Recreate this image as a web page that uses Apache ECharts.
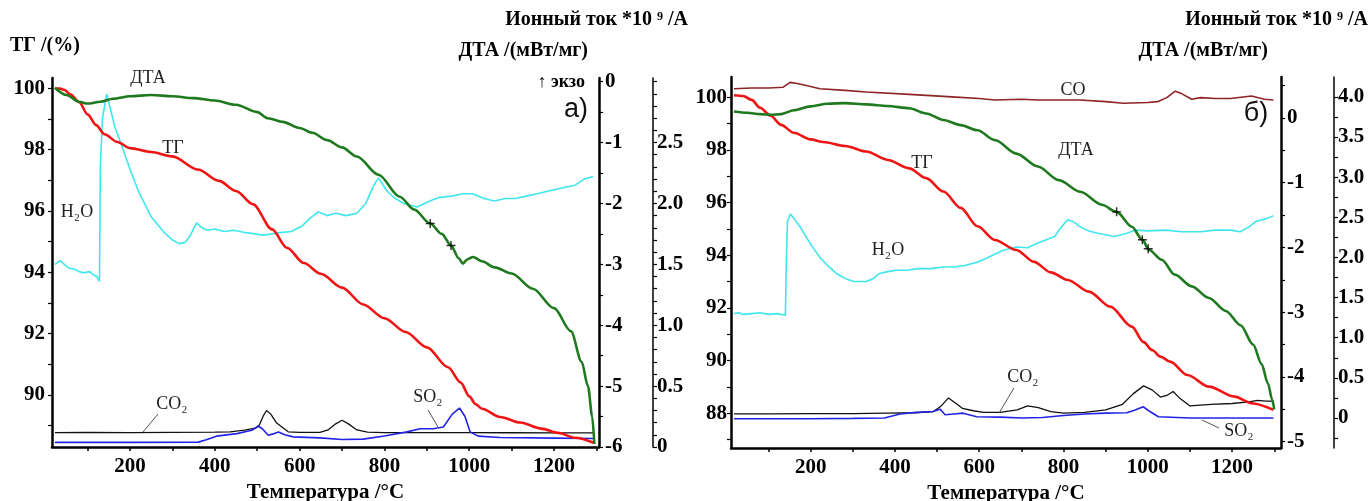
<!DOCTYPE html>
<html><head><meta charset="utf-8">
<script src="https://cdn.jsdelivr.net/npm/echarts@6/dist/echarts.min.js"></script>
<style>html,body{margin:0;padding:0;background:#fff}#c{width:1370px;height:501px}</style>
</head><body><div id="c"></div>
<script>
// ---------- tick / label values ----------
const X_TICKS = [100,200,300,400,500,600,700,800,900,1000,1100,1200,1300];
const X_LABELS = [200,400,600,800,1000,1200];
const TG_A_TICKS = [89,90,91,92,93,94,95,96,97,98,99,100];
const TG_A_LABELS = [90,92,94,96,98,100];
const TG_B_TICKS = [87,88,89,90,91,92,93,94,95,96,97,98,99,100];
const TG_B_LABELS = [88,90,92,94,96,98,100];
const DTA_A_TICKS = [-6,-5.5,-5,-4.5,-4,-3.5,-3,-2.5,-2,-1.5,-1,-0.5,0];
const DTA_A_LABELS = [-6,-5,-4,-3,-2,-1,0];
const DTA_B_TICKS = [-5,-4.5,-4,-3.5,-3,-2.5,-2,-1.5,-1,-0.5,0,0.5];
const DTA_B_LABELS = [-5,-4,-3,-2,-1,0];
const ION_A_TICKS = [0,0.1,0.2,0.3,0.4,0.5,0.6,0.7,0.8,0.9,1.0,1.1,1.2,1.3,1.4,1.5,1.6,1.7,1.8,1.9,2.0,2.1,2.2,2.3,2.4,2.5,2.6,2.7,2.8,2.9,3.0];
const ION_A_LABELS = [0,0.5,1.0,1.5,2.0,2.5];
const ION_B_TICKS = [-0.25,0,0.25,0.5,0.75,1.0,1.25,1.5,1.75,2.0,2.25,2.5,2.75,3.0,3.25,3.5,3.75,4.0,4.25];
const ION_B_LABELS = [0,0.5,1.0,1.5,2.0,2.5,3.0,3.5,4.0];

// ---------- panel a) data [T °C, value] ----------
const TG_A = [[23,100],[35,99.99],[45,99.95],[60,99.8],[80,99.55],[100,99.15],[120,98.8],[140,98.5],[170,98.25],[200,98.05],[250,97.92],[300,97.78],[360,97.35],[410,96.98],[450,96.65],[490,96.22],[535,95.4],[570,94.8],[610,94.3],[650,93.95],[700,93.5],[750,92.95],[800,92.5],[850,92.05],[900,91.55],[950,90.9],[980,90.4],[1000,89.95],[1015,89.7],[1030,89.55],[1073,89.28],[1120,89.1],[1170,88.9],[1210,88.76],[1250,88.6],[1295,88.43]];
const DTA_A = [[23,-0.1],[50,-0.22],[80,-0.33],[100,-0.36],[130,-0.33],[160,-0.28],[200,-0.24],[250,-0.22],[300,-0.24],[350,-0.27],[400,-0.31],[450,-0.38],[500,-0.5],[525,-0.6],[560,-0.66],[600,-0.76],[630,-0.84],[665,-0.96],[700,-1.08],[735,-1.23],[786,-1.53],[836,-1.89],[870,-2.1],[908,-2.33],[935,-2.5],[957,-2.69],[975,-2.9],[985,-2.99],[995,-2.92],[1009,-2.88],[1030,-2.95],[1060,-3.05],[1100,-3.15],[1150,-3.4],[1200,-3.72],[1240,-4.1],[1265,-4.6],[1280,-5.0],[1290,-5.5],[1295,-5.95]];
const DTA_A_MARKS = [[908,-2.33],[957,-2.69]];
const H2O_A = [[23,1.5],[35,1.53],[45,1.5],[55,1.47],[70,1.46],[80,1.44],[90,1.43],[105,1.44],[115,1.41],[122,1.4],[128,1.36],[130,2.3],[135,2.7],[145,2.9],[152,2.8],[165,2.62],[180,2.48],[200,2.28],[220,2.1],[250,1.89],[281,1.76],[300,1.7],[316,1.67],[330,1.68],[341,1.73],[357,1.84],[370,1.8],[382,1.78],[400,1.79],[422,1.77],[445,1.78],[473,1.76],[495,1.75],[513,1.74],[535,1.75],[554,1.76],[580,1.77],[604,1.81],[625,1.88],[644,1.93],[665,1.9],[685,1.92],[710,1.9],[735,1.92],[756,2.0],[775,2.15],[786,2.21],[806,2.1],[826,2.04],[846,2.0],[877,1.97],[907,2.02],[930,2.05],[958,2.06],[985,2.08],[1008,2.08],[1035,2.04],[1059,2.02],[1085,2.04],[1109,2.04],[1135,2.06],[1160,2.08],[1185,2.1],[1210,2.12],[1250,2.15],[1271,2.2],[1292,2.22]];
const CO2_A = [[23,0.118],[100,0.12],[200,0.118],[300,0.12],[400,0.122],[436,0.125],[470,0.138],[495,0.155],[505,0.18],[515,0.26],[522,0.3],[532,0.27],[545,0.2],[556,0.17],[573,0.125],[600,0.12],[648,0.12],[667,0.14],[685,0.19],[700,0.22],[715,0.19],[735,0.14],[760,0.122],[800,0.118],[900,0.118],[1000,0.118],[1100,0.117],[1200,0.116],[1292,0.116]];
const SO2_A = [[23,0.038],[200,0.038],[361,0.04],[380,0.06],[404,0.089],[452,0.11],[487,0.138],[503,0.17],[512,0.15],[526,0.097],[540,0.11],[550,0.124],[565,0.1],[585,0.083],[648,0.075],[700,0.062],[750,0.065],[800,0.09],[853,0.124],[884,0.15],[915,0.15],[939,0.164],[960,0.27],[977,0.32],[990,0.25],[1002,0.124],[1021,0.089],[1073,0.078],[1200,0.073],[1293,0.07]];

// ---------- panel б) data [T °C, value] ----------
const TG_B = [[18,100.08],[40,100.05],[60,99.9],[80,99.6],[105,99.3],[130,98.95],[160,98.65],[200,98.4],[230,98.3],[282,98.15],[332,97.94],[383,97.62],[434,97.3],[474,96.93],[515,96.42],[556,95.8],[596,95.1],[637,94.58],[688,94.2],[730,93.75],[770,93.35],[810,93.06],[860,92.62],[911,92.05],[962,91.29],[990,90.7],[1010,90.4],[1030,90.15],[1053,89.96],[1094,89.45],[1145,89.01],[1206,88.63],[1246,88.38],[1298,88.13]];
const DTA_B = [[18,0.1],[50,0.08],[80,0.06],[105,0.05],[130,0.06],[160,0.12],[200,0.18],[240,0.22],[282,0.23],[332,0.21],[383,0.185],[434,0.15],[474,0.07],[515,-0.03],[556,-0.11],[596,-0.19],[637,-0.34],[688,-0.55],[739,-0.75],[789,-0.96],[840,-1.14],[891,-1.34],[926,-1.45],[962,-1.68],[987,-1.88],[1003,-2.04],[1033,-2.19],[1064,-2.42],[1104,-2.6],[1145,-2.78],[1185,-2.98],[1220,-3.2],[1250,-3.5],[1270,-3.8],[1285,-4.1],[1295,-4.35],[1300,-4.5]];
const DTA_B_MARKS = [[926,-1.45],[987,-1.88],[1001,-2.02]];
const H2O_B = [[18,1.3],[30,1.31],[40,1.29],[60,1.3],[80,1.31],[100,1.29],[120,1.3],[140,1.28],[142,1.9],[145,2.45],[152,2.54],[158,2.5],[175,2.38],[198,2.18],[222,2.0],[240,1.9],[261,1.8],[285,1.73],[302,1.7],[332,1.7],[350,1.74],[363,1.8],[380,1.82],[403,1.84],[430,1.84],[454,1.86],[485,1.86],[515,1.88],[540,1.88],[566,1.9],[595,1.94],[617,1.99],[657,2.09],[688,2.13],[715,2.12],[739,2.18],[779,2.26],[795,2.38],[810,2.47],[825,2.44],[840,2.38],[860,2.33],[881,2.3],[921,2.26],[950,2.3],[972,2.34],[1000,2.33],[1043,2.34],[1080,2.32],[1125,2.32],[1160,2.34],[1196,2.34],[1219,2.32],[1240,2.38],[1257,2.45],[1280,2.48],[1298,2.52]];
const CO_B = [[18,4.1],[60,4.11],[100,4.11],[135,4.12],[151,4.18],[165,4.17],[190,4.14],[222,4.1],[282,4.08],[332,4.06],[434,4.03],[535,4.0],[600,3.98],[637,3.96],[700,3.97],[739,3.96],[840,3.96],[900,3.94],[942,3.92],[1000,3.93],[1023,3.94],[1045,3.99],[1065,4.07],[1080,4.04],[1104,3.97],[1125,3.99],[1160,3.98],[1196,3.98],[1246,4.01],[1277,3.97],[1298,3.96]];
const CO2_B = [[18,0.05],[100,0.05],[200,0.055],[300,0.055],[380,0.06],[450,0.065],[491,0.08],[510,0.15],[527,0.25],[545,0.18],[560,0.12],[586,0.09],[610,0.07],[650,0.07],[690,0.1],[715,0.15],[740,0.13],[770,0.08],[800,0.06],[850,0.07],[900,0.1],[940,0.17],[965,0.3],[990,0.4],[1010,0.35],[1030,0.26],[1045,0.28],[1060,0.33],[1075,0.25],[1100,0.15],[1125,0.16],[1150,0.17],[1200,0.18],[1240,0.2],[1260,0.22],[1280,0.21],[1298,0.21]];
const SO2_B = [[18,-0.01],[100,-0.01],[200,-0.01],[300,-0.005],[375,0.0],[412,0.05],[450,0.07],[491,0.08],[507,0.11],[519,0.04],[540,0.05],[562,0.06],[594,0.015],[650,0.01],[700,0.0],[750,0.005],[800,0.03],[850,0.05],[900,0.06],[950,0.065],[970,0.1],[989,0.14],[1005,0.08],[1025,0.015],[1100,0.0],[1200,0.0],[1298,0.0]];

// ---------- chart ----------
const SERIF = '"Liberation Serif","Times New Roman","DejaVu Serif",serif';
const SANS = '"Liberation Sans",Arial,sans-serif';
const chart = echarts.init(document.getElementById('c'), null, {renderer:'canvas'});

function xAx(grid, min, max) {
  return {
    type:'value', gridIndex:grid, min:min, max:max,
    name:'Температура /°C', nameLocation:'middle', nameGap:28,
    nameTextStyle:{fontFamily:SERIF, fontWeight:'bold', fontSize:21, color:'#000', verticalAlign:'top'},
    axisLine:{onZero:false, lineStyle:{color:'#000', width:2.5}},
    axisTick:{customValues:X_TICKS, length:4, inside:false, lineStyle:{color:'#000', width:1.5}},
    axisLabel:{customValues:X_LABELS, formatter:v => String(Math.round(v)), margin:9, fontFamily:SERIF, fontWeight:'bold', fontSize:21, color:'#000'},
    splitLine:{show:false}
  };
}
function yAx(grid, pos, offset, min, max, ticks, labels, fmt, lw, margin) {
  return {
    type:'value', gridIndex:grid, position:pos, offset:offset, min:min, max:max,
    axisLine:{show:true, onZero:false, lineStyle:{color:'#000', width:lw}},
    axisTick:{show:true, customValues:ticks, length:4, inside:false, lineStyle:{color:'#000', width:1.2}},
    axisLabel:{customValues:labels, formatter:fmt, margin:margin, fontFamily:SERIF, fontWeight:'bold', fontSize:21, color:'#000'},
    splitLine:{show:false}
  };
}
const fmtInt = v => String(Math.round(v));
const fmtIon = v => (Math.abs(v) < 1e-9 ? '0' : v.toFixed(1));

function line(name, data, xi, yi, color, width, smooth) {
  return {
    name:name, type:'line', xAxisIndex:xi, yAxisIndex:yi, data:data,
    showSymbol:false, symbol:'none', smooth:smooth ? 0.3 : false, smoothMonotone:'x',
    lineStyle:{color:color, width:width}, silent:true, z:3
  };
}
const PLUS = 'path://M0,4.2H10V5.8H0Z M4.2,0H5.8V10H4.2Z';
function marks(data, xi, yi) {
  return {type:'scatter', xAxisIndex:xi, yAxisIndex:yi, data:data, symbol:PLUS, symbolSize:9,
    itemStyle:{color:'#000'}, silent:true, z:5};
}

function txt(x, y, text, opts) {
  opts = opts || {};
  return {type:'text', x:x, y:y, silent:true, z:100, style:{
    text:text, fill:opts.color || '#222',
    font:(opts.weight || 'normal') + ' ' + (opts.size || 18) + 'px ' + (opts.family || SERIF),
    align:opts.align || 'center', verticalAlign:'middle'}};
}
function seg(x1, y1, x2, y2) {
  return {type:'line', silent:true, z:100, shape:{x1:x1,y1:y1,x2:x2,y2:y2}, style:{stroke:'#555', lineWidth:1}};
}
const B = {weight:'bold', size:20, color:'#000'};

chart.setOption({
  animation:false,
  backgroundColor:'#fff',
  grid:[
    {left:52, top:78, width:547, height:369, containLabel:false, outerBoundsMode:'none'},
    {left:731, top:77, width:550, height:371, containLabel:false, outerBoundsMode:'none'}
  ],
  xAxis:[xAx(0, 16, 1306), xAx(1, 11, 1316)],
  yAxis:[
    yAx(0, 'left', 0, 88.3, 100.336, TG_A_TICKS, TG_A_LABELS, fmtInt, 2.5, 7),
    yAx(0, 'right', 0, -6, 0.06, DTA_A_TICKS, DTA_A_LABELS, fmtInt, 2.5, 6),
    yAx(0, 'right', 54, 0, 3.03, ION_A_TICKS, ION_A_LABELS, fmtIon, 1.5, 4),
    yAx(1, 'left', 0, 86.68, 100.77, TG_B_TICKS, TG_B_LABELS, fmtInt, 2.5, 4),
    yAx(1, 'right', 0, -5.097, 0.633, DTA_B_TICKS, DTA_B_LABELS, fmtInt, 2.5, 6),
    yAx(1, 'right', 53, -0.374, 4.247, ION_B_TICKS, ION_B_LABELS, fmtIon, 1.5, 4)
  ],
  series:[
    line('H2O a', H2O_A, 0, 2, '#3fe6ee', 1.6, false),
    line('CO2 a', CO2_A, 0, 2, '#111', 1.3, false),
    line('SO2 a', SO2_A, 0, 2, '#2323e6', 1.6, false),
    line('ТГ a', TG_A, 0, 0, '#f01515', 2.6, true),
    line('ДТА a', DTA_A, 0, 1, '#1f7a1f', 2.6, true),
    marks(DTA_A_MARKS, 0, 1),
    line('CO b', CO_B, 1, 5, '#8e2424', 1.6, false),
    line('H2O b', H2O_B, 1, 5, '#3fe6ee', 1.6, false),
    line('CO2 b', CO2_B, 1, 5, '#111', 1.3, false),
    line('SO2 b', SO2_B, 1, 5, '#2323e6', 1.6, false),
    line('ТГ b', TG_B, 1, 3, '#f01515', 2.6, true),
    line('ДТА b', DTA_B, 1, 4, '#1f7a1f', 2.6, true),
    marks(DTA_B_MARKS, 1, 4)
  ],
  graphic:[
    txt(10, 46, 'ТГ /(%)', Object.assign({align:'left'}, B)),
    txt(688, 20, 'Ионный ток *10 ⁹ /А', Object.assign({}, B, {align:'right'})),
    txt(588, 51, 'ДТА /(мВт/мг)', Object.assign({}, B, {align:'right'})),
    txt(585, 82, '↑ экзо', {align:'right', weight:'bold', size:18, color:'#000'}),
    txt(1368, 20, 'Ионный ток *10 ⁹ /А', Object.assign({}, B, {align:'right'})),
    txt(1268, 51, 'ДТА /(мВт/мг)', Object.assign({}, B, {align:'right'})),
    // panel a annotations
    txt(148, 78, 'ДТА'),
    txt(173, 148, 'ТГ'),
    txt(77, 212, 'H₂O'),
    txt(172, 404, 'CO₂'),
    seg(143, 432, 158, 414),
    txt(428, 397, 'SO₂'),
    seg(438, 427, 428, 410),
    txt(576, 110, 'а)', {size:27, family:SANS, color:'#111'}),
    // panel b annotations
    txt(1073, 90, 'CO'),
    txt(922, 163, 'ТГ'),
    txt(1076, 150, 'ДТА'),
    txt(888, 250, 'H₂O'),
    txt(1023, 377, 'CO₂'),
    seg(999, 413, 1014, 388),
    txt(1239, 431, 'SO₂'),
    seg(1202, 420, 1219, 428),
    txt(1256, 114, 'б)', {size:27, family:SANS, color:'#111'})
  ]
});
</script>
</body></html>
